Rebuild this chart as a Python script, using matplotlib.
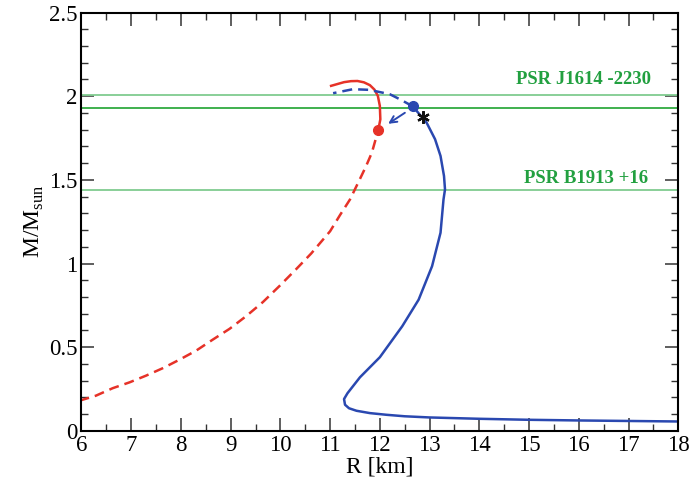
import numpy as np
import matplotlib.pyplot as plt

plt.rcParams['font.family'] = ['Liberation Serif', 'DejaVu Serif']
plt.rcParams['mathtext.fontset'] = 'custom'
plt.rcParams['mathtext.rm'] = 'Liberation Serif'

# Rama hadronica (roja, discontinua) hasta el punto de transicion
red_dash_R = [5.96, 6.29, 6.63, 6.97, 7.30, 7.64, 7.97, 8.31, 8.64, 8.98, 9.31, 9.65, 9.98,
              10.31, 10.62, 11.0, 11.2, 11.40, 11.58, 11.72, 11.84, 11.97]
red_dash_M = [0.18, 0.21, 0.255, 0.29, 0.33, 0.375, 0.425, 0.48, 0.545, 0.61, 0.685, 0.77, 0.865,
              0.964, 1.06, 1.193, 1.29, 1.383, 1.493, 1.58, 1.663, 1.80]

# Rama roja continua por encima del punto
red_sol_R = [11.97, 12.01, 12.0, 11.96, 11.89, 11.80, 11.68, 11.55, 11.42, 11.28, 11.02]
red_sol_M = [1.80, 1.862, 1.942, 2.002, 2.04, 2.066, 2.083, 2.091, 2.09, 2.084, 2.062]

# Rama azul continua
blue_sol_R = [17.97, 16.0, 15.0, 14.0, 13.0, 12.5, 12.13, 11.8, 11.53, 11.38, 11.30, 11.28,
              11.35, 11.6, 12.0, 12.45, 12.78, 13.05, 13.22, 13.28, 13.31, 13.29, 13.22,
              13.11, 12.94, 12.66]
blue_sol_M = [0.056, 0.062, 0.066, 0.072, 0.08, 0.087, 0.096, 0.106, 0.12, 0.135, 0.156, 0.19,
              0.225, 0.32, 0.44, 0.625, 0.784, 0.984, 1.184, 1.383, 1.443, 1.523, 1.643,
              1.743, 1.842, 1.94]

# Rama azul discontinua (inestable)
blue_dash_R = [12.66, 12.4, 12.2, 11.79, 11.46, 11.06]
blue_dash_M = [1.94, 1.982, 2.012, 2.038, 2.042, 2.018]

# Pulsares observados
psr_J1614 = [2.01, 1.93]
psr_B1913 = 1.44

red = '#e63228'
blue = '#2a48b0'
green = '#22a040'

fig = plt.figure(figsize=(6.9, 4.83), dpi=100)
ax = fig.add_axes([0.118, 0.108, 0.865, 0.866])

ax.axhline(psr_J1614[0], color='#80cc90', lw=1.3)
ax.axhline(psr_J1614[1], color='#30aa40', lw=1.3)
ax.axhline(psr_B1913, color='#80cc90', lw=1.3)

kw = dict(lw=1.8, solid_joinstyle='round', dash_joinstyle='round')
ax.plot(red_dash_R, red_dash_M, color=red, dashes=(4, 2.4), **kw)
ax.plot(red_sol_R, red_sol_M, color=red, **kw)
ax.plot(blue_sol_R, blue_sol_M, color=blue, **kw)
ax.plot(blue_dash_R, blue_dash_M, color=blue, dashes=(4, 2.4), **kw)

ax.plot(red_sol_R[0], red_sol_M[0], 'o', color=red, ms=7)
ax.plot(blue_sol_R[-1], blue_sol_M[-1], 'o', color=blue, ms=7)
ax.annotate('', xy=(12.12, 1.826), xytext=(12.55, 1.91),
            arrowprops=dict(arrowstyle='->', color=blue, lw=1.4, mutation_scale=12))
ax.plot(12.86, 1.876, marker=(6, 2, 0), color='#111111', ms=9, mew=1.6)

ax.text(17.45, 2.05, 'PSR J1614 -2230', color=green, fontsize=13.5,
        fontweight='bold', ha='right', va='bottom')
ax.text(17.4, 1.455, 'PSR B1913 +16', color=green, fontsize=13.5,
        fontweight='bold', ha='right', va='bottom')

ax.set_xlim(6, 18)
ax.set_ylim(0, 2.5)
ax.set_xticks(np.arange(6, 19, 1))
ax.set_yticks([0, 0.5, 1, 1.5, 2, 2.5])
ax.set_yticklabels(['0', '0.5', '1', '1.5', '2', '2.5'])
ax.set_xticks(np.arange(6, 18.01, 0.5), minor=True)
ax.set_yticks(np.arange(0, 2.51, 0.1), minor=True)
ax.tick_params(which='both', direction='in', top=True, right=True,
               labelsize=16.5, color='#333333', pad=3)
ax.tick_params(which='major', length=9.5, width=1.1)
ax.tick_params(which='minor', length=5, width=1.0)
for s in ax.spines.values():
    s.set_linewidth(1.5)

ax.set_xlabel('R [km]', fontsize=17, labelpad=0)
ax.set_ylabel(r'M/M$_{\mathrm{sun}}$', fontsize=17, labelpad=2)

fig.savefig('out.png', dpi=100)
